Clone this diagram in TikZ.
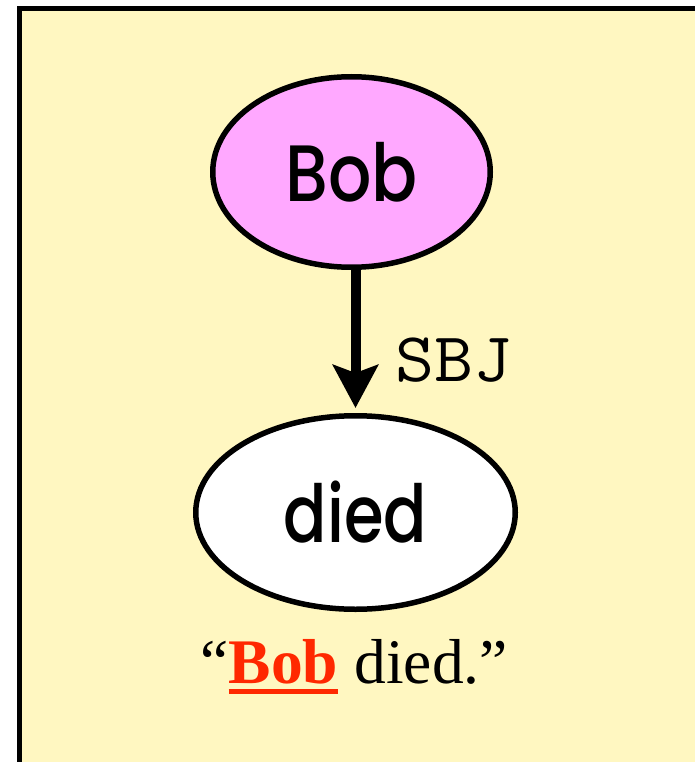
\documentclass[tikz,border=0pt]{standalone}
\usepackage{fontspec}
\usepackage{graphicx}
\setmainfont{Liberation Serif}
\newfontfamily\geofont{Poppins}[UprightFont=* Medium]
\usetikzlibrary{arrows.meta,shapes.geometric}
\definecolor{paper}{RGB}{255,247,193}
\definecolor{agentpink}{RGB}{255,168,255}
\definecolor{markred}{RGB}{255,40,0}
\tikzset{
  frame/.style={draw=black, line width=5pt, fill=paper},
  wordnode/.style={ellipse, draw=black, line width=5.5pt, inner sep=0pt,
    font=\geofont\fontsize{80}{80}\selectfont},
  deparrow/.style={line width=10pt, -{Stealth[length=43pt,width=45pt,inset=8pt]}},
  deplabel/.style={font=\ttfamily\fontsize{70}{70}\selectfont, inner sep=0pt},
  caption/.style={font=\fontsize{63.5}{63.5}\selectfont, inner sep=0pt},
}
\begin{document}
\begin{tikzpicture}[x=1pt,y=-1pt]
\useasboundingbox (0,0) rectangle (695,762);
\begin{scope}
\clip (0,0) rectangle (695,762);
\draw[frame] (19,8.5) rectangle (697,790);
\end{scope}

% word nodes
\node[wordnode, fill=agentpink, minimum width=277.5pt, minimum height=190.5pt]
  (bob) at (351.5,172) {\scalebox{0.85}[1]{Bob}};
\node[wordnode, fill=white, minimum width=319.5pt, minimum height=193.5pt]
  (died) at (355.5,512.5) {\scalebox{0.8}[1]{died}};

% subject dependency
\draw[deparrow, shorten >=5pt] (bob.south -| died.north) -- (died.north);
\node[deplabel, anchor=base west] (sbj) at (395,381) {\scalebox{1.08}[1]{SBJ}};

% example sentence
\node[caption, anchor=base west] (lq) at (200,683) {``};
\node[caption, anchor=base west, text=markred] (word) at (lq.base east) {\textbf{Bob}};
\node[caption, anchor=base west] (rest) at (word.base east) {\phantom{.}\kern-0.25em\ died.''};
\draw[markred, line width=4.5pt] ([yshift=-8.5pt]word.base west) -- ([yshift=-8.5pt]word.base east);
\end{tikzpicture}
\end{document}
